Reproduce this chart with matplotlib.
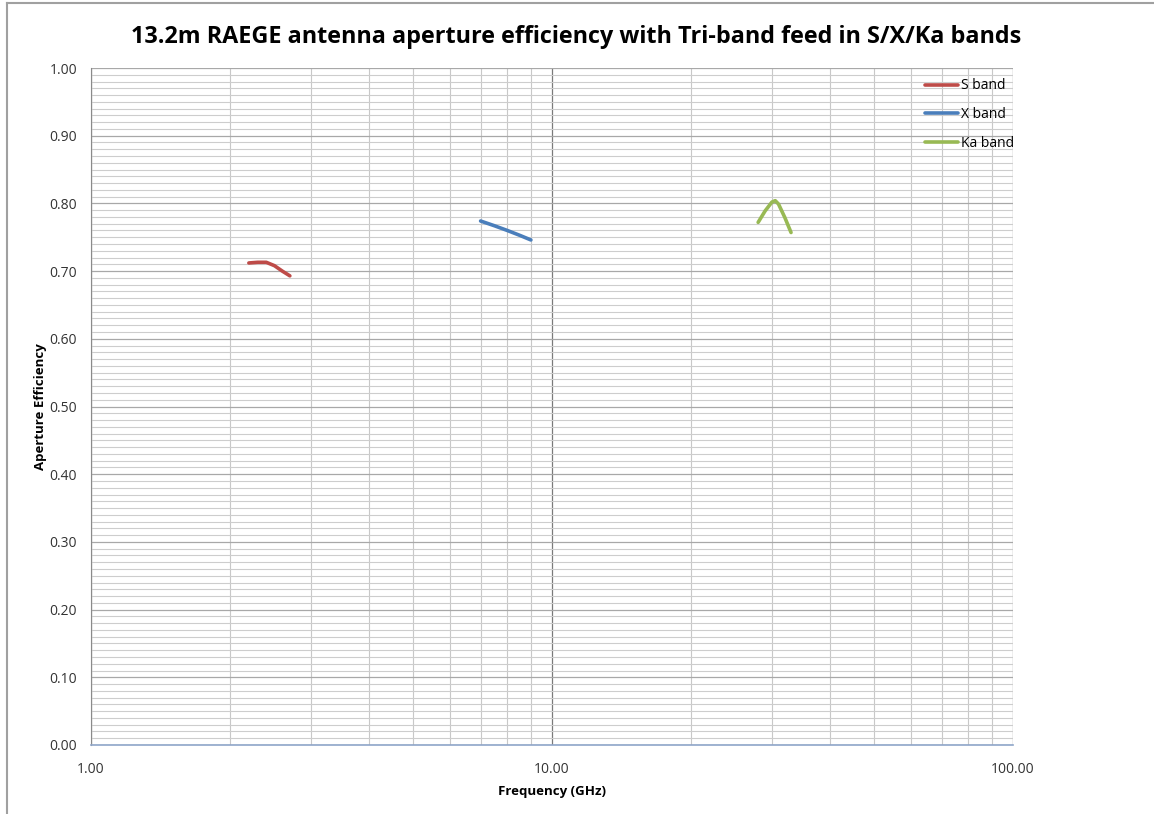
import matplotlib
matplotlib.use("Agg")
import matplotlib.pyplot as plt
from matplotlib.lines import Line2D
from matplotlib.ticker import FixedLocator, FuncFormatter, MultipleLocator, LogLocator, NullFormatter

# data
s_freq = [2.2, 2.3, 2.4, 2.5, 2.6, 2.7]
s_eff = [0.712, 0.713, 0.713, 0.708, 0.700, 0.693]

x_freq = [7.0, 7.5, 8.0, 8.5, 9.0]
x_eff = [0.774, 0.767, 0.760, 0.753, 0.746]

ka_freq = [28.0, 29.0, 30.0, 30.5, 31.0, 32.0, 33.0]
ka_eff = [0.772, 0.789, 0.802, 0.804, 0.799, 0.779, 0.757]

x_ticks = [1, 10, 100]
y_ticks = [0.0, 0.1, 0.2, 0.3, 0.4, 0.5, 0.6, 0.7, 0.8, 0.9, 1.0]

plt.rcParams["font.family"] = ["Open Sans", "DejaVu Sans"]

fig = plt.figure(figsize=(11.54, 8.14), dpi=100)
ax = fig.add_axes([91 / 1154, 69 / 814, 922 / 1154, 677 / 814])

ax.plot(s_freq, s_eff, color="#be4b48", lw=2.6, label="S band", solid_capstyle="round")
ax.plot(x_freq, x_eff, color="#4a7ebb", lw=2.6, label="X band", solid_capstyle="round")
ax.plot(ka_freq, ka_eff, color="#98b954", lw=2.6, label="Ka band", solid_capstyle="round")

ax.set_xscale("log")
ax.set_xlim(1, 100)
ax.set_ylim(0, 1.0)

ax.xaxis.set_major_locator(FixedLocator(x_ticks))
ax.xaxis.set_minor_locator(LogLocator(base=10, subs=range(2, 10)))
ax.xaxis.set_major_formatter(FuncFormatter(lambda v, p: f"{v:.2f}"))
ax.xaxis.set_minor_formatter(NullFormatter())
ax.yaxis.set_major_locator(FixedLocator(y_ticks))
ax.yaxis.set_minor_locator(MultipleLocator(0.01))
ax.yaxis.set_major_formatter(FuncFormatter(lambda v, p: f"{v:.2f}"))

ax.xaxis.grid(True, which="major", color="#7a7a7a", lw=0.9)
ax.xaxis.grid(True, which="minor", color="#c8c8c8", lw=0.8)
ax.yaxis.grid(True, which="major", color="#a8a8a8", lw=0.9)
ax.yaxis.grid(True, which="minor", color="#cdcdcd", lw=0.8)
ax.set_axisbelow(True)

ax.tick_params(which="both", length=0, labelsize=10, colors="#333333", pad=10)
ax.tick_params(axis="x", pad=12)

for side in ["top", "right"]:
    ax.spines[side].set_visible(False)
ax.spines["left"].set_color("#8a8a8a")
ax.spines["bottom"].set_color("#8fa6c9")
ax.spines["bottom"].set_linewidth(1.2)

ax.set_xlabel("Frequency (GHz)", fontsize=9.5, fontweight="bold", labelpad=6)
ax.set_ylabel("Aperture Efficiency", fontsize=9.5, fontweight="bold", labelpad=2)

fig.text(0.499, 0.954, "13.2m RAEGE antenna aperture efficiency with Tri-band feed in S/X/Ka bands",
         ha="center", va="center", fontsize=16.8, fontweight="bold")

leg = ax.legend(loc="upper right", bbox_to_anchor=(1.015, 1.003), frameon=False,
                fontsize=10, handlelength=2.4, handletextpad=0.2, labelspacing=1.0)

# chart area border (top and left edges visible in reference)
fig.add_artist(Line2D([7 / 1154, 7 / 1154], [0, 1 - 3 / 814], color="#a0a0a0", lw=1.5))
fig.add_artist(Line2D([7 / 1154, 1], [1 - 3 / 814, 1 - 3 / 814], color="#a0a0a0", lw=1.5))

fig.savefig("out.png", dpi=100, facecolor="white")
